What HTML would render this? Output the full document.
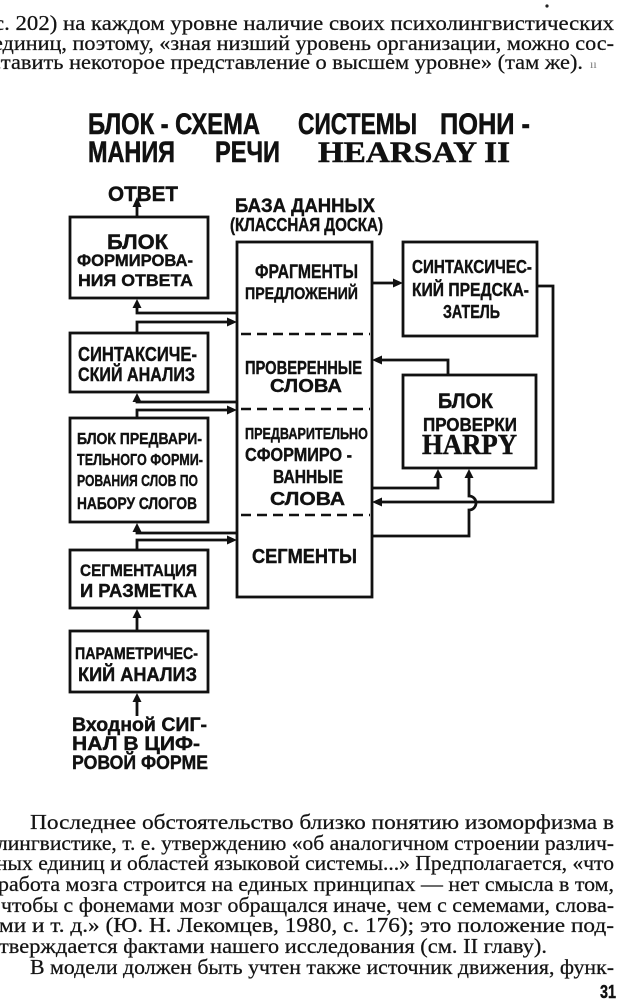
<!DOCTYPE html>
<html><head><meta charset="utf-8"><style>
html,body{margin:0;padding:0;background:#fff;}
svg{display:block;}
.b{font-family:"Liberation Serif","DejaVu Serif",serif;font-size:21px;fill:#141414;stroke:#141414;stroke-width:0.25px;}
.d{font-family:"Liberation Sans","DejaVu Sans",sans-serif;font-weight:bold;fill:#111;stroke:#111;stroke-width:0.4px;}
.t{font-family:"Liberation Sans","DejaVu Sans",sans-serif;font-weight:bold;fill:#111;stroke:#111;stroke-width:0.6px;font-size:30px;}
.s{font-family:"Liberation Serif","DejaVu Serif",serif;font-weight:bold;fill:#111;stroke:#111;stroke-width:0.5px;}
</style></head><body>
<svg width="620" height="1001" viewBox="0 0 620 1001" xmlns="http://www.w3.org/2000/svg">
<rect width="620" height="1001" fill="#fff"/>
<!-- top text -->
<circle cx="547" cy="6" r="1.6" fill="#222"/>
<text class="b" x="-6" y="30" textLength="620" lengthAdjust="spacingAndGlyphs">с. 202) на каждом уровне наличие своих психолингвистических</text>
<text class="b" x="-7" y="50" textLength="621" lengthAdjust="spacingAndGlyphs">единиц, поэтому, «зная низший уровень организации, можно сос-</text>
<text class="b" x="-9" y="69" textLength="592" lengthAdjust="spacingAndGlyphs">ставить некоторое представление о высшем уровне» (там же).</text>
<text x="590" y="68" font-size="12" fill="#777" font-family="Liberation Serif,serif">ıı</text>

<!-- title -->
<text class="t" x="88" y="134" textLength="172" lengthAdjust="spacingAndGlyphs">БЛОК - СХЕМА</text>
<text class="t" x="298" y="134" textLength="119" lengthAdjust="spacingAndGlyphs">СИСТЕМЫ</text>
<text class="t" x="440" y="134" textLength="90" lengthAdjust="spacingAndGlyphs">ПОНИ -</text>
<text class="t" x="88" y="162" textLength="87" lengthAdjust="spacingAndGlyphs">МАНИЯ</text>
<text class="t" x="215" y="162" textLength="65" lengthAdjust="spacingAndGlyphs">РЕЧИ</text>
<text class="s" x="318" y="162" font-size="30" textLength="192" lengthAdjust="spacingAndGlyphs">HEARSAY II</text>

<!-- headers -->
<text class="d" x="108" y="201" font-size="21" textLength="70" lengthAdjust="spacingAndGlyphs">ОТВЕТ</text>
<text class="d" x="235" y="212" font-size="19" textLength="140" lengthAdjust="spacingAndGlyphs">БАЗА ДАННЫХ</text>
<text class="d" x="230" y="231" font-size="18" textLength="153" lengthAdjust="spacingAndGlyphs">(КЛАССНАЯ ДОСКА)</text>

<g fill="none" stroke="#111" stroke-width="2.8">
<!-- left boxes -->
<rect x="70" y="217" width="138" height="81"/>
<rect x="70" y="333" width="138" height="59"/>
<rect x="70" y="418" width="138" height="104"/>
<rect x="70" y="550" width="138" height="58"/>
<rect x="70" y="631" width="138" height="61"/>
<!-- middle -->
<rect x="237" y="242" width="135" height="355"/>
<!-- right -->
<rect x="403" y="242" width="134" height="94"/>
<rect x="403" y="375" width="133" height="93"/>
<!-- connectors -->
<polyline points="137,217 137,206"/>
<polyline points="237,313 137,313 137,306"/>
<polyline points="137,333 137,322 228,322"/>
<polyline points="237,402 137,402 137,400"/>
<polyline points="137,418 137,410 228,410"/>
<polyline points="237,533 137,533 137,530"/>
<polyline points="137,550 137,540 228,540"/>
<polyline points="137,631 137,616"/>
<polyline points="137,716 137,700"/>
<polyline points="372,283 394,283"/>
<polyline points="537,286 553,286 553,502 381,502"/>
<polyline points="448,375 448,360 381,360"/>
<polyline points="372,488 438,488 438,477"/>
<path d="M372,536 L469,536 L469,510 A7,7 0 0 0 469,496 L469,477"/>
</g>
<g stroke="#111" stroke-width="2.4" stroke-dasharray="10 6">
<line x1="241" y1="334" x2="370" y2="334"/>
<line x1="241" y1="409" x2="370" y2="409"/>
<line x1="241" y1="515" x2="370" y2="515"/>
</g>
<g fill="#111">
<!-- up arrows -->
<polygon points="137,197 132.5,207 141.5,207"/>
<polygon points="137,299 132.5,308 141.5,308"/>
<polygon points="137,393 132.5,402 141.5,402"/>
<polygon points="137,523 132.5,532 141.5,532"/>
<polygon points="137,609 132.5,618 141.5,618"/>
<polygon points="137,693 132.5,702 141.5,702"/>
<polygon points="438,469 433.5,478 442.5,478"/>
<polygon points="469,469 464.5,478 473.5,478"/>
<!-- right arrows -->
<polygon points="237,322 227,317.5 227,326.5"/>
<polygon points="237,410 227,405.5 227,414.5"/>
<polygon points="237,540 227,535.5 227,544.5"/>
<polygon points="403,283 393,278.5 393,287.5"/>
<!-- left arrows -->
<polygon points="372,502 382,497.5 382,506.5"/>
<polygon points="372,360 382,355.5 382,364.5"/>
</g>

<!-- box texts -->
<text class="d" x="107" y="249" font-size="21" textLength="61" lengthAdjust="spacingAndGlyphs">БЛОК</text>
<text class="d" x="77" y="266" font-size="17" textLength="116" lengthAdjust="spacingAndGlyphs">ФОРМИРОВА-</text>
<text class="d" x="78" y="286" font-size="17" textLength="115" lengthAdjust="spacingAndGlyphs">НИЯ ОТВЕТА</text>

<text class="d" x="78" y="361" font-size="20" textLength="119" lengthAdjust="spacingAndGlyphs">СИНТАКСИЧЕ-</text>
<text class="d" x="78" y="381" font-size="19" textLength="117" lengthAdjust="spacingAndGlyphs">СКИЙ АНАЛИЗ</text>

<text class="d" x="77" y="444" font-size="16" textLength="125" lengthAdjust="spacingAndGlyphs">БЛОК ПРЕДВАРИ-</text>
<text class="d" x="77" y="465" font-size="16" textLength="126" lengthAdjust="spacingAndGlyphs">ТЕЛЬНОГО ФОРМИ-</text>
<text class="d" x="77" y="486" font-size="16" textLength="121" lengthAdjust="spacingAndGlyphs">РОВАНИЯ СЛОВ ПО</text>
<text class="d" x="77" y="509" font-size="17" textLength="120" lengthAdjust="spacingAndGlyphs">НАБОРУ СЛОГОВ</text>

<text class="d" x="80" y="576" font-size="17" textLength="117" lengthAdjust="spacingAndGlyphs">СЕГМЕНТАЦИЯ</text>
<text class="d" x="80" y="597" font-size="18" textLength="117" lengthAdjust="spacingAndGlyphs">И РАЗМЕТКА</text>

<text class="d" x="75" y="659" font-size="17" textLength="123" lengthAdjust="spacingAndGlyphs">ПАРАМЕТРИЧЕС-</text>
<text class="d" x="78" y="681" font-size="19" textLength="119" lengthAdjust="spacingAndGlyphs">КИЙ АНАЛИЗ</text>

<text class="d" x="72" y="731" font-size="19" textLength="135" lengthAdjust="spacingAndGlyphs">Входной СИГ-</text>
<text class="d" x="72" y="750" font-size="19" textLength="128" lengthAdjust="spacingAndGlyphs">НАЛ В ЦИФ-</text>
<text class="d" x="72" y="769" font-size="19" textLength="136" lengthAdjust="spacingAndGlyphs">РОВОЙ ФОРМЕ</text>

<!-- middle texts -->
<text class="d" x="255" y="278" font-size="19" textLength="103" lengthAdjust="spacingAndGlyphs">ФРАГМЕНТЫ</text>
<text class="d" x="245" y="299" font-size="17" textLength="113" lengthAdjust="spacingAndGlyphs">ПРЕДЛОЖЕНИЙ</text>
<text class="d" x="245" y="374" font-size="18" textLength="117" lengthAdjust="spacingAndGlyphs">ПРОВЕРЕННЫЕ</text>
<text class="d" x="270" y="392" font-size="18" textLength="72" lengthAdjust="spacingAndGlyphs">СЛОВА</text>
<text class="d" x="245" y="439" font-size="16" textLength="123" lengthAdjust="spacingAndGlyphs">ПРЕДВАРИТЕЛЬНО</text>
<text class="d" x="245" y="461" font-size="18" textLength="107" lengthAdjust="spacingAndGlyphs">СФОРМИРО -</text>
<text class="d" x="273" y="483" font-size="18" textLength="70" lengthAdjust="spacingAndGlyphs">ВАННЫЕ</text>
<text class="d" x="270" y="505" font-size="18" textLength="75" lengthAdjust="spacingAndGlyphs">СЛОВА</text>
<text class="d" x="252" y="563" font-size="20" textLength="105" lengthAdjust="spacingAndGlyphs">СЕГМЕНТЫ</text>

<!-- right texts -->
<text class="d" x="412" y="273" font-size="18" textLength="120" lengthAdjust="spacingAndGlyphs">СИНТАКСИЧЕС-</text>
<text class="d" x="412" y="296" font-size="18" textLength="117" lengthAdjust="spacingAndGlyphs">КИЙ ПРЕДСКА-</text>
<text class="d" x="443" y="318" font-size="18" textLength="57" lengthAdjust="spacingAndGlyphs">ЗАТЕЛЬ</text>
<text class="d" x="438" y="408" font-size="21" textLength="55" lengthAdjust="spacingAndGlyphs">БЛОК</text>
<text class="d" x="423" y="431" font-size="18" textLength="94" lengthAdjust="spacingAndGlyphs">ПРОВЕРКИ</text>
<text class="s" x="422" y="454" font-size="29" textLength="95" lengthAdjust="spacingAndGlyphs">HARPY</text>

<!-- bottom text -->
<text class="b" x="30" y="829" textLength="584" lengthAdjust="spacingAndGlyphs">Последнее обстоятельство  близко понятию  изоморфизма в</text>
<text class="b" x="-3" y="850" textLength="617" lengthAdjust="spacingAndGlyphs">лингвистике, т. е. утверждению «об аналогичном строении различ-</text>
<text class="b" x="-4" y="870" textLength="618" lengthAdjust="spacingAndGlyphs">ных единиц и областей языковой системы...» Предполагается, «что</text>
<text class="b" x="-2" y="891" textLength="616" lengthAdjust="spacingAndGlyphs">работа мозга строится на единых принципах — нет смысла в том,</text>
<text class="b" x="1" y="912" textLength="613" lengthAdjust="spacingAndGlyphs">чтобы с фонемами мозг обращался иначе, чем с семемами, слова-</text>
<text class="b" x="-1" y="932" textLength="615" lengthAdjust="spacingAndGlyphs">ми и т. д.» (Ю. Н. Лекомцев, 1980, с. 176); это положение под-</text>
<text class="b" x="-1" y="953" textLength="548" lengthAdjust="spacingAndGlyphs">тверждается фактами нашего исследования  (см. II главу).</text>
<text class="b" x="30" y="974" textLength="584" lengthAdjust="spacingAndGlyphs">В модели должен быть учтен также источник движения, функ-</text>
<text class="d" x="600" y="998" font-size="18" textLength="16" lengthAdjust="spacingAndGlyphs">31</text>
</svg>
</body></html>
